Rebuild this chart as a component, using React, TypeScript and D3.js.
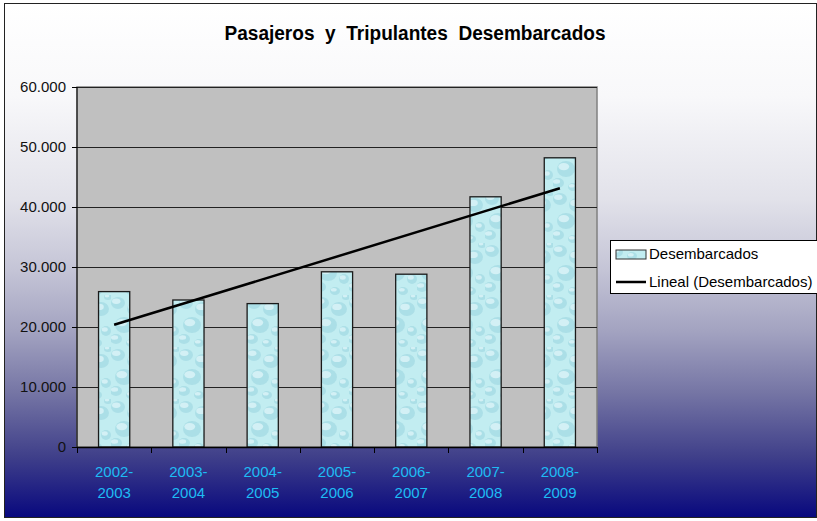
import { useEffect, useRef } from 'react';
import * as d3 from 'd3';

const periods = ['2002-2003', '2003-2004', '2004-2005', '2005-2006', '2006-2007', '2007-2008', '2008-2009'];
const desembarcados = [25900, 24500, 23900, 29200, 28800, 41700, 48200];
const yTicks = [0, 10000, 20000, 30000, 40000, 50000, 60000];

const fmt = (v: number) => (v === 0 ? '0' : d3.format(',')(v).replace(/,/g, '.'));

export default function App() {
    const svgRef = useRef<SVGSVGElement>(null);

    useEffect(() => {
        const svg = d3.select(svgRef.current);
        svg.selectAll('*').remove();

        const W = 817, H = 521;
        const margin = { top: 87, left: 77, right: 220, bottom: 74 };
        const width = W - margin.left - margin.right;   // 520
        const height = H - margin.top - margin.bottom;  // 360
        const font = 'Liberation Sans, Arial, sans-serif';

        const defs = svg.append('defs');

        const bg = defs.append('linearGradient').attr('id', 'bg').attr('x1', 0).attr('y1', 0).attr('x2', 0).attr('y2', 1);
        [[0, '#ffffff'], [0.18, '#f8f8fa'], [0.38, '#e2e2ea'], [0.52, '#c4c4d6'], [0.64, '#a2a2c0'],
         [0.76, '#7474a4'], [0.88, '#40408a'], [1, '#08087e']].forEach(([o, c]) => {
            bg.append('stop').attr('offset', o as number).attr('stop-color', c as string);
        });

        // water drop texture for the bars
        const pat = defs.append('pattern').attr('id', 'drops').attr('patternUnits', 'userSpaceOnUse')
            .attr('width', 34).attr('height', 52);
        pat.append('rect').attr('width', 34).attr('height', 52).attr('fill', '#c2edf1');
        const drops = [[7, 8, 7, 6], [24, 14, 8, 7], [13, 30, 9, 8], [29, 36, 5, 5], [5, 44, 6, 5], [20, 48, 5, 4], [31, 2, 4, 3]];
        drops.forEach(([cx, cy, rx, ry]) => {
            pat.append('ellipse').attr('cx', cx).attr('cy', cy).attr('rx', rx).attr('ry', ry)
                .attr('fill', '#98d3de').attr('opacity', 0.55);
            pat.append('ellipse').attr('cx', cx - rx * 0.25).attr('cy', cy - ry * 0.3).attr('rx', rx * 0.6).attr('ry', ry * 0.45)
                .attr('fill', '#e4f9fb').attr('opacity', 0.7);
        });

        svg.append('rect').attr('x', 4.5).attr('y', 3.5).attr('width', W - 5).attr('height', H - 7)
            .attr('fill', 'url(#bg)').attr('stroke', '#222').attr('stroke-width', 1);

        svg.append('text')
            .attr('x', 415).attr('y', 40)
            .attr('text-anchor', 'middle')
            .attr('font-family', font)
            .attr('font-weight', 'bold').attr('font-size', 19.5)
            .attr('textLength', 381).attr('lengthAdjust', 'spacingAndGlyphs')
            .style('white-space', 'pre')
            .attr('fill', '#000')
            .text('Pasajeros  y  Tripulantes  Desembarcados');

        const x = d3.scaleBand().domain(periods).range([0, width]).padding(0);
        const y = d3.scaleLinear().domain([0, 60000]).range([height, 0]);

        const g = svg.append('g').attr('transform', `translate(${margin.left},${margin.top})`);

        g.append('rect').attr('width', width).attr('height', height).attr('fill', '#c0c0c0')
            .attr('stroke', '#808080').attr('stroke-width', 1.5);

        g.selectAll('.grid').data(yTicks.slice(1)).enter().append('line')
            .attr('x1', 0).attr('x2', width)
            .attr('y1', d => y(d) + 0.5).attr('y2', d => y(d) + 0.5)
            .attr('stroke', '#222').attr('stroke-width', 1);

        const barW = x.bandwidth() * 0.42;
        g.selectAll('.bar').data(desembarcados).enter().append('rect')
            .attr('x', (d, i) => x(periods[i])! + (x.bandwidth() - barW) / 2)
            .attr('y', d => y(d))
            .attr('width', barW)
            .attr('height', d => height - y(d))
            .attr('fill', 'url(#drops)')
            .attr('stroke', '#1a1a1a').attr('stroke-width', 1.3);

        // linear trend (least squares over category index)
        const n = desembarcados.length;
        const idx = d3.range(1, n + 1);
        const mx = d3.mean(idx)!, my = d3.mean(desembarcados)!;
        const slope = d3.sum(idx, (k, i) => (k - mx) * (desembarcados[i] - my)) / d3.sum(idx, k => (k - mx) ** 2);
        const ends = [0, n - 1];
        g.append('path').datum(ends)
            .attr('d', d3.line<number>()
                .x(i => x(periods[i])! + x.bandwidth() / 2)
                .y(i => y(my + slope * (idx[i] - mx))))
            .attr('fill', 'none').attr('stroke', '#000').attr('stroke-width', 2.5);

        // axes
        g.append('line').attr('x1', 0).attr('x2', 0).attr('y1', 0).attr('y2', height).attr('stroke', '#000');
        g.append('line').attr('x1', 0).attr('x2', width).attr('y1', height + 0.5).attr('y2', height + 0.5)
            .attr('stroke', '#000').attr('stroke-width', 1.3);

        const yAxis = g.append('g').attr('font-family', font);
        yTicks.forEach(t => {
            yAxis.append('line').attr('x1', -5).attr('x2', 0).attr('y1', y(t) + 0.5).attr('y2', y(t) + 0.5).attr('stroke', '#000');
            yAxis.append('text').attr('x', -11).attr('y', y(t)).attr('dy', '0.35em')
                .attr('text-anchor', 'end').attr('font-size', 15).attr('fill', '#111').text(fmt(t));
        });

        const xAxis = g.append('g').attr('font-family', font);
        d3.range(n + 1).forEach(i => {
            const px = Math.round(i * x.step()) + 0.5;
            xAxis.append('line').attr('x1', px).attr('x2', px).attr('y1', height).attr('y2', height + 6).attr('stroke', '#000');
        });
        periods.forEach(p => {
            const [a, b] = p.split('-');
            const cx = x(p)! + x.bandwidth() / 2;
            const t = xAxis.append('text').attr('text-anchor', 'middle').attr('font-size', 15).attr('fill', '#1ebcf4');
            t.append('tspan').attr('x', cx).attr('y', height + 30).text(a + '-');
            t.append('tspan').attr('x', cx).attr('y', height + 51).text(b);
        });

        // legend
        const lg = svg.append('g').attr('font-family', font);
        lg.append('rect').attr('x', 610.5).attr('y', 240.5).attr('width', 210).attr('height', 53)
            .attr('fill', '#fff').attr('stroke', '#000');
        lg.append('rect').attr('x', 616).attr('y', 250).attr('width', 30).attr('height', 9)
            .attr('fill', 'url(#drops)').attr('stroke', '#333');
        lg.append('text').attr('x', 649).attr('y', 254).attr('dy', '0.35em').attr('font-size', 15).attr('fill', '#000').text('Desembarcados');
        lg.append('line').attr('x1', 616).attr('x2', 646).attr('y1', 282).attr('y2', 282).attr('stroke', '#000').attr('stroke-width', 2.5);
        lg.append('text').attr('x', 649).attr('y', 282).attr('dy', '0.35em').attr('font-size', 15).attr('fill', '#000').text('Lineal (Desembarcados)');
    }, []);

    return (
        <div style={{ position: 'absolute', left: 0, top: 0 }}>
            <svg ref={svgRef} width={817} height={521} style={{ display: 'block' }} />
        </div>
    );
}
